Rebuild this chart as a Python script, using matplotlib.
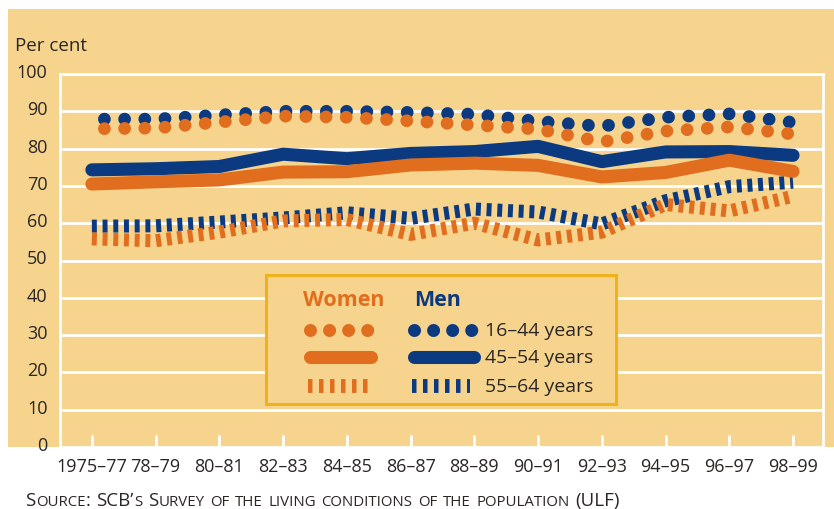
import matplotlib
matplotlib.use("Agg")
import numpy as np
import matplotlib.pyplot as plt
from matplotlib.lines import Line2D
from matplotlib.patches import Rectangle
from matplotlib.transforms import ScaledTranslation


periods = ["1975–77", "78–79", "80–81", "82–83", "84–85", "86–87",
           "88–89", "90–91", "92–93", "94–95", "96–97", "98–99"]

women_16_44 = [85.3, 85.5, 87.1, 88.7, 88.4, 87.4, 86.3, 85.2, 81.8, 84.7, 85.8, 83.9]
men_16_44 = [87.9, 87.9, 89.0, 90.0, 90.0, 89.7, 89.2, 87.3, 86.0, 88.4, 89.3, 87.0]
women_45_54 = [70.5, 71.1, 71.6, 73.7, 73.8, 75.6, 76.1, 75.5, 72.4, 73.6, 76.9, 73.9]
men_45_54 = [74.3, 74.6, 75.2, 78.5, 77.3, 78.7, 79.2, 80.6, 76.5, 79.1, 79.2, 78.2]
women_55_64 = [55.8, 55.3, 57.6, 60.6, 61.0, 57.0, 60.0, 55.5, 57.6, 65.0, 63.3, 67.2]
men_55_64 = [59.2, 59.3, 60.3, 61.4, 62.8, 61.3, 63.8, 63.0, 59.8, 66.0, 69.8, 71.0]

age_groups = ["16–44 years", "45–54 years", "55–64 years"]
source = "Source: SCB’s Survey of the living conditions of the population (ULF)"

PEACH = "#f6d48e"
NAVY = "#0b3a80"
ORANGE = "#e06e1e"
GOLD = "#eeb21c"
INK = "#2a2624"

W, H = 834, 510
plt.rcParams["font.family"] = ["Open Sans", "DejaVu Sans"]

fig = plt.figure(figsize=(W / 100, H / 100), dpi=100)
fig.patch.set_facecolor("white")


def fx(px):
    return px / W


def fy(py):
    return 1 - py / H


# peach panel behind everything
fig.add_artist(Rectangle((fx(8), fy(448)), 1 - fx(8), fy(10) - fy(448),
                         transform=fig.transFigure, facecolor=PEACH,
                         edgecolor="none", zorder=-5))

ax = fig.add_axes([fx(60), fy(448), fx(823) - fx(60), fy(75) - fy(448)])
ax.set_facecolor("none")

# line styles: dots, thick solid, short perpendicular bars
dots = dict(lw=9.2, linestyle=(0.6, (0.001, 1.58)), dash_capstyle="round")
solid = dict(lw=9.4, solid_capstyle="round", solid_joinstyle="round")
bars = dict(lw=9.4, linestyle=(0, (0.38, 0.44)), dash_capstyle="butt")

x = np.arange(len(periods))
ax.plot(x, men_16_44, color=NAVY, zorder=3, **dots)
ax.plot(x, women_16_44, color=ORANGE, zorder=4, **dots)
ax.plot(x, men_45_54, color=NAVY, zorder=3, **solid)
ax.plot(x, women_45_54, color=ORANGE, zorder=4, **solid)
ax.plot(x, men_55_64, color=NAVY, zorder=3, **bars)
ax.plot(x, women_55_64, color=ORANGE, zorder=4, **bars)

ax.set_xlim(-0.5, 11.47)
ax.set_ylim(0, 100)
ax.set_xticks(x)
ax.set_xticklabels(periods)
ax.set_yticks(np.arange(0, 101, 10))

ax.grid(axis="y", color="white", lw=2, zorder=1)
ax.set_axisbelow(True)
for side in ["left", "right", "top"]:
    ax.spines[side].set_color("white")
    ax.spines[side].set_linewidth(2)
ax.spines["bottom"].set_visible(False)

ax.tick_params(axis="y", length=0, pad=9, labelsize=13, labelcolor=INK)
ax.tick_params(axis="x", direction="in", length=8.5, width=2, color="white",
               pad=7, labelsize=13, labelcolor=INK)
for lab in ax.get_yticklabels():
    lab.set_transform(lab.get_transform() + ScaledTranslation(0, 0.04, fig.dpi_scale_trans))

fig.text(fx(15), fy(51), "Per cent", fontsize=13.5, color=INK, va="baseline", ha="left")

# legend box
fig.add_artist(Rectangle((fx(266), fy(405)), fx(616) - fx(266), fy(276) - fy(405),
                         transform=fig.transFigure, facecolor=PEACH,
                         edgecolor=GOLD, lw=2.2, zorder=5))
fig.text(fx(344), fy(300), "Women", fontsize=15.5, fontweight="bold", color=ORANGE,
         ha="center", va="center", zorder=6)
fig.text(fx(438), fy(300), "Men", fontsize=15.5, fontweight="bold", color=NAVY,
         ha="center", va="center", zorder=6)

leg_dots = dict(lw=9.4, linestyle=(0, (0.001, 1.46)), dash_capstyle="round")
leg_solid = dict(lw=9.4, solid_capstyle="round")
leg_bars = dict(lw=10, linestyle=(0, (0.324, 0.468)), dash_capstyle="butt")
samples = [
    (331, leg_dots, (310, 367.5), (414, 471.5)),
    (358, leg_solid, (309.5, 370.5), (413.5, 473.5)),
    (387, leg_bars, (308, 367.5), (412, 470)),
]
for (yy, style, wseg, mseg), label in zip(samples, age_groups):
    fig.add_artist(Line2D([fx(wseg[0]), fx(wseg[1])], [fy(yy), fy(yy)],
                          transform=fig.transFigure, color=ORANGE, zorder=6, **style))
    fig.add_artist(Line2D([fx(mseg[0]), fx(mseg[1])], [fy(yy), fy(yy)],
                          transform=fig.transFigure, color=NAVY, zorder=6, **style))
    fig.text(fx(485), fy(yy), label, fontsize=14, color=INK,
             ha="left", va="center", zorder=6)

# source line set in small caps
renderer = fig.canvas.get_renderer()
cursor = 25.0
runs = []
for ch in source:
    kind = "space" if ch == " " else ("low" if ch.islower() else "up")
    if runs and runs[-1][0] == kind and kind != "space":
        runs[-1][1] += ch
    else:
        runs.append([kind, ch])
for kind, chunk in runs:
    if kind == "space":
        cursor += 5.2
        continue
    size = 10.8 if kind == "low" else 13.5
    t = fig.text(fx(cursor), fy(506), chunk.upper(), fontsize=size, color=INK,
                 ha="left", va="baseline")
    cursor = t.get_window_extent(renderer).x1 + 0.4

fig.savefig("out.png", dpi=100)
